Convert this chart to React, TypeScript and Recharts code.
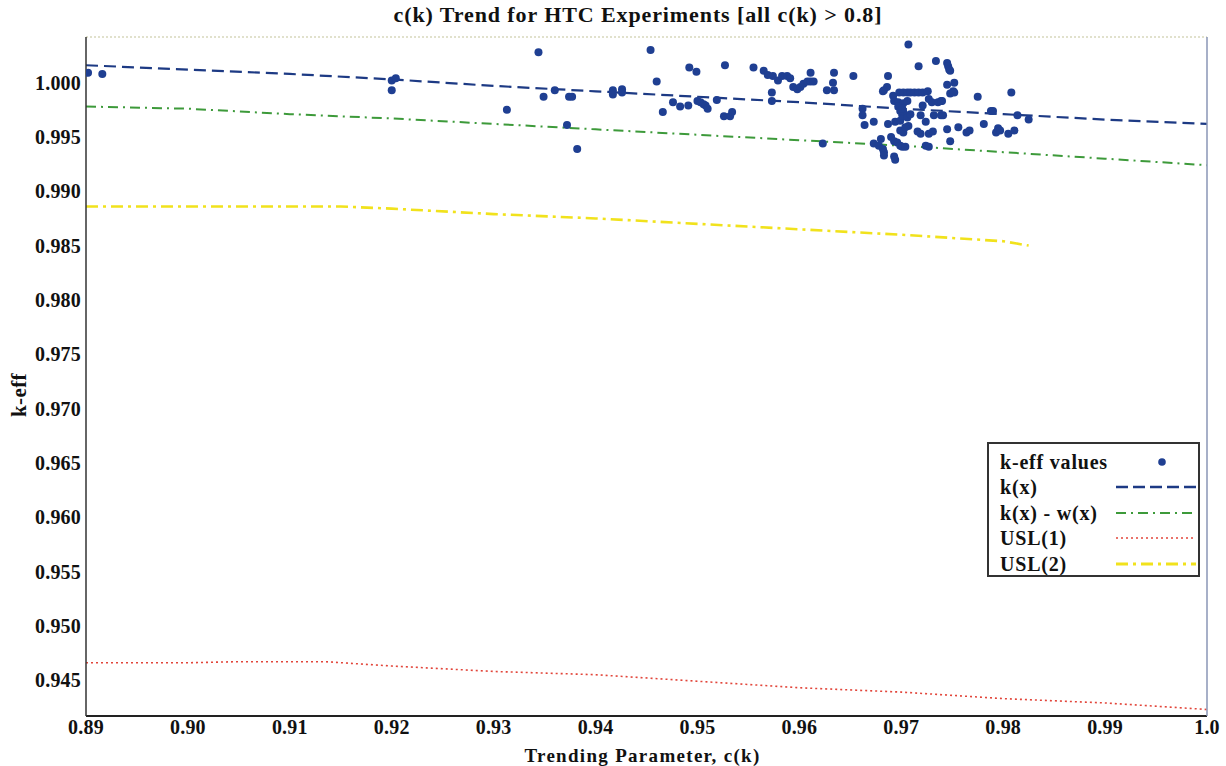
import { ComposedChart, Line, Scatter, XAxis, YAxis } from "recharts";

const xTicks = [0.89, 0.9, 0.91, 0.92, 0.93, 0.94, 0.95, 0.96, 0.97, 0.98, 0.99, 1.0];
const yTicks = [0.945, 0.95, 0.955, 0.96, 0.965, 0.97, 0.975, 0.98, 0.985, 0.99, 0.995, 1.0];

// k(x) trend
const kxC = [0.89, 0.9, 0.91, 0.92, 0.93, 0.94, 0.95, 0.96, 0.97, 0.98, 0.99, 1.0];
const kxK = [1.0016, 1.0012, 1.0008, 1.0003, 0.9997, 0.9992, 0.9987, 0.9982, 0.9976, 0.9971, 0.9966, 0.9962];

// k(x) - w(x)
const kwC = [0.89, 0.9, 0.91, 0.92, 0.93, 0.94, 0.95, 0.96, 0.97, 0.98, 0.99, 1.0];
const kwK = [0.9978, 0.9976, 0.9971, 0.9967, 0.9962, 0.9957, 0.9952, 0.9947, 0.9942, 0.9936, 0.993, 0.9924];

// USL(1)
const usl1C = [0.89, 0.9, 0.905, 0.9135, 0.92, 0.93, 0.94, 0.95, 0.96, 0.97, 0.98, 0.99, 1.0];
const usl1K = [0.9466, 0.9466, 0.9467, 0.9467, 0.9463, 0.9458, 0.9455, 0.9449, 0.9443, 0.9439, 0.9433, 0.9429, 0.9423];

// USL(2)
const usl2C = [0.89, 0.9, 0.91, 0.915, 0.92, 0.93, 0.94, 0.95, 0.96, 0.97, 0.98, 0.9825];
const usl2K = [0.9886, 0.9886, 0.9886, 0.9886, 0.9884, 0.9879, 0.9875, 0.987, 0.9865, 0.986, 0.9854, 0.985];

// k-eff values [c(k), k-eff]
const keffValues: [number, number][] = [
  [0.8902, 1.0009], [0.8916, 1.0008], [0.92, 1.0002], [0.9204, 1.0004], [0.92, 0.9993],
  [0.9313, 0.9975], [0.9344, 1.0028], [0.9349, 0.9987], [0.936, 0.9993], [0.9374, 0.9987],
  [0.9377, 0.9987], [0.9372, 0.9961], [0.9382, 0.9939], [0.9417, 0.9993], [0.9417, 0.9989],
  [0.9426, 0.9994], [0.9426, 0.9991], [0.9454, 1.003], [0.946, 1.0001], [0.9466, 0.9973],
  [0.9476, 0.9982], [0.9483, 0.9978], [0.9491, 0.9979], [0.9492, 1.0014], [0.9499, 1.001],
  [0.95, 0.9983], [0.9503, 0.9982], [0.9506, 0.998], [0.9508, 0.9979], [0.951, 0.9976],
  [0.9519, 0.9984], [0.9526, 0.9969], [0.9532, 0.9969], [0.9534, 0.9973], [0.9527, 1.0016],
  [0.9555, 1.0014], [0.9565, 1.0011], [0.9569, 1.0007], [0.9574, 1.0006], [0.9579, 1.0002],
  [0.9583, 1.0006], [0.9588, 1.0006], [0.9591, 1.0004], [0.9573, 0.9991], [0.9573, 0.9983],
  [0.9594, 0.9996], [0.9598, 0.9994], [0.9601, 0.9996], [0.9604, 0.9999], [0.9608, 1.0001],
  [0.9611, 1.0001], [0.9614, 1.0001], [0.9611, 1.0009], [0.9627, 0.9993], [0.9634, 0.9993],
  [0.9633, 1.0], [0.9634, 1.0009], [0.9623, 0.9944], [0.9653, 1.0006], [0.9707, 1.0035],
  [0.9717, 1.0015], [0.9734, 1.002], [0.9745, 1.0018], [0.9746, 1.0015], [0.9747, 1.0012],
  [0.9748, 1.0011], [0.9745, 0.9998], [0.9752, 1.0], [0.9748, 0.999], [0.9751, 0.9992],
  [0.9752, 0.9991], [0.974, 0.9983], [0.9687, 1.0006], [0.9686, 0.9996], [0.9683, 0.9993],
  [0.9682, 0.9992], [0.9692, 0.9988], [0.9698, 0.9991], [0.9702, 0.9991], [0.9706, 0.9991],
  [0.9709, 0.9991], [0.9713, 0.9991], [0.9717, 0.9991], [0.9721, 0.9991], [0.9726, 0.9992],
  [0.9727, 0.9985], [0.973, 0.9982], [0.9736, 0.9982], [0.9739, 0.9983], [0.9693, 0.9983],
  [0.9697, 0.9982], [0.9702, 0.9981], [0.9706, 0.9983], [0.9662, 0.9976], [0.9662, 0.997],
  [0.9664, 0.9961], [0.9673, 0.9964], [0.9687, 0.9962], [0.9694, 0.9964], [0.9699, 0.9965],
  [0.9701, 0.997], [0.9702, 0.9973], [0.9697, 0.9978], [0.9699, 0.9974], [0.9701, 0.9976],
  [0.9721, 0.9979], [0.9719, 0.997], [0.9732, 0.997], [0.9739, 0.997], [0.9724, 0.9964],
  [0.9707, 0.996], [0.9699, 0.9956], [0.9702, 0.9954], [0.9716, 0.9955], [0.9719, 0.9953],
  [0.9727, 0.9953], [0.9731, 0.9955], [0.9745, 0.9957], [0.9756, 0.9959], [0.968, 0.9948],
  [0.969, 0.995], [0.9693, 0.9946], [0.9696, 0.9945], [0.9699, 0.9942], [0.9673, 0.9944],
  [0.9678, 0.9942], [0.9682, 0.9939], [0.9683, 0.9936], [0.9683, 0.9933], [0.9693, 0.9932],
  [0.9694, 0.9929], [0.9701, 0.9941], [0.9704, 0.9941], [0.9724, 0.9942], [0.9727, 0.9941],
  [0.9748, 0.9946], [0.9706, 0.9968], [0.9709, 0.9971], [0.9704, 0.9959], [0.9775, 0.9987],
  [0.9808, 0.9991], [0.9788, 0.9974], [0.979, 0.9974], [0.9741, 0.997], [0.9814, 0.997],
  [0.9825, 0.9966], [0.9764, 0.9954], [0.9767, 0.9956], [0.9781, 0.9962], [0.9793, 0.9954],
  [0.9795, 0.9958], [0.9797, 0.9956], [0.9805, 0.9953], [0.9811, 0.9956],
];

const rows = (cs: number[], ks: number[]) => cs.map((c, i) => ({ c, k: ks[i] }));

const xDomain: [number, number] = [0.89, 1.0];
const yDomain: [number, number] = [0.9417, 1.0042];

const serif = "'Liberation Serif', 'Times New Roman', serif";
const tickStyle = { fill: "#111", fontSize: 20, fontWeight: 700, fontFamily: serif, letterSpacing: 0.2 };

const BLUE = "#1d3a84";
const DOT = "#1f3f92";
const GREEN = "#3d9a3a";
const RED = "#e2453a";
const YELLOW = "#f1e21c";

function LegendRow({ label, sample }: { label: string; sample: React.ReactNode }) {
  return (
    <div style={{ display: "flex", alignItems: "center", height: 25.5 }}>
      <span style={{ width: 116, whiteSpace: "nowrap" }}>{label}</span>
      <svg width={82} height={12}>{sample}</svg>
    </div>
  );
}

export default function App() {
  return (
    <div style={{ position: "absolute", left: 0, top: 0, width: 1226, height: 766, background: "#fff", overflow: "hidden" }}>
      <div
        style={{
          position: "absolute", left: 0, width: 1226, top: 2, textAlign: "center",
          fontFamily: serif, fontWeight: 700, fontSize: 22, letterSpacing: 0.9, color: "#111",
          paddingLeft: 50, boxSizing: "border-box",
        }}
      >
        c(k) Trend for HTC Experiments [all c(k) &gt; 0.8]
      </div>
      <div
        style={{
          position: "absolute", left: 19, top: 395, transform: "translate(-50%, -50%) rotate(-90deg)",
          fontFamily: serif, fontWeight: 700, fontSize: 21, letterSpacing: 0.4, color: "#111", whiteSpace: "nowrap",
        }}
      >
        k-eff
      </div>
      <ComposedChart width={1226} height={766} margin={{ top: 37, right: 19, bottom: 0, left: 0 }}>
        <XAxis
          dataKey="c"
          type="number"
          domain={xDomain}
          ticks={xTicks}
          allowDataOverflow
          height={50}
          tickLine={false}
          tickSize={0}
          tickMargin={4}
          axisLine={{ stroke: "#222", strokeWidth: 2 }}
          tick={tickStyle}
          tickFormatter={(v: number) => (v === 1 ? "1.0" : v.toFixed(2))}
          label={{ value: "Trending Parameter, c(k)", position: "insideBottom", offset: 4, fill: "#111", fontSize: 19, fontWeight: 700, fontFamily: serif, letterSpacing: 1.3, dx: -4 }}
        />
        <XAxis
          xAxisId="top"
          orientation="top"
          dataKey="c"
          type="number"
          domain={xDomain}
          ticks={xTicks}
          allowDataOverflow
          height={1}
          mirror
          tick={false}
          tickSize={4}
          axisLine={{ stroke: "#d8d7bc", strokeWidth: 1.5, strokeDasharray: "2 2" }}
          tickLine={{ stroke: "#555" }}
        />
        <YAxis
          dataKey="k"
          type="number"
          domain={yDomain}
          ticks={yTicks}
          allowDataOverflow
          width={86}
          tickLine={false}
          tickSize={0}
          tickMargin={5}
          axisLine={{ stroke: "#333", strokeWidth: 1.5 }}
          tick={tickStyle}
          tickFormatter={(v: number) => v.toFixed(3)}
        />
        <YAxis
          yAxisId="right"
          orientation="right"
          dataKey="k"
          type="number"
          domain={yDomain}
          ticks={yTicks}
          allowDataOverflow
          width={1}
          mirror
          tick={false}
          tickSize={5}
          axisLine={{ stroke: "#8a96b6", strokeWidth: 1.5 }}
          tickLine={{ stroke: "#6a789a" }}
        />
        <Line data={rows(usl1C, usl1K)} dataKey="k" type="linear" stroke={RED} strokeWidth={1.6} strokeDasharray="2 3" dot={false} isAnimationActive={false} />
        <Line data={rows(usl2C, usl2K)} dataKey="k" type="linear" stroke={YELLOW} strokeWidth={2.6} strokeDasharray="12 5 3 5" dot={false} isAnimationActive={false} />
        <Line data={rows(kwC, kwK)} dataKey="k" type="linear" stroke={GREEN} strokeWidth={2} strokeDasharray="10 5 2 5" dot={false} isAnimationActive={false} />
        <Line data={rows(kxC, kxK)} dataKey="k" type="linear" stroke={BLUE} strokeWidth={2.2} strokeDasharray="12 6" dot={false} isAnimationActive={false} />
        <Scatter
          data={keffValues.map(([c, k]) => ({ c, k }))}
          dataKey="k"
          isAnimationActive={false}
          shape={(p: { cx?: number; cy?: number }) =>
            p.cx === undefined || p.cy === undefined ? <g /> : <circle cx={p.cx} cy={p.cy} r={4} fill={DOT} />
          }
        />
      </ComposedChart>
      <div
        style={{
          position: "absolute", left: 987, top: 442, width: 213, height: 135, boxSizing: "border-box",
          border: "2px solid #333", background: "#fff", padding: "5px 0 0 11px",
          fontFamily: serif, fontWeight: 700, fontSize: 20, letterSpacing: 0.8, color: "#111", lineHeight: 1,
        }}
      >
        <LegendRow label="k-eff values" sample={<circle cx={46} cy={6} r={3.8} fill={DOT} />} />
        <LegendRow label="k(x)" sample={<line x1={0} y1={6} x2={80} y2={6} stroke={BLUE} strokeWidth={2.4} strokeDasharray="12 5" />} />
        <LegendRow label="k(x) - w(x)" sample={<line x1={0} y1={6} x2={80} y2={6} stroke={GREEN} strokeWidth={2.2} strokeDasharray="10 5 2 5" />} />
        <LegendRow label="USL(1)" sample={<line x1={0} y1={6} x2={80} y2={6} stroke={RED} strokeWidth={1.6} strokeDasharray="2 3" />} />
        <LegendRow label="USL(2)" sample={<line x1={0} y1={6} x2={80} y2={6} stroke={YELLOW} strokeWidth={2.8} strokeDasharray="12 5 3 5" />} />
      </div>
    </div>
  );
}
